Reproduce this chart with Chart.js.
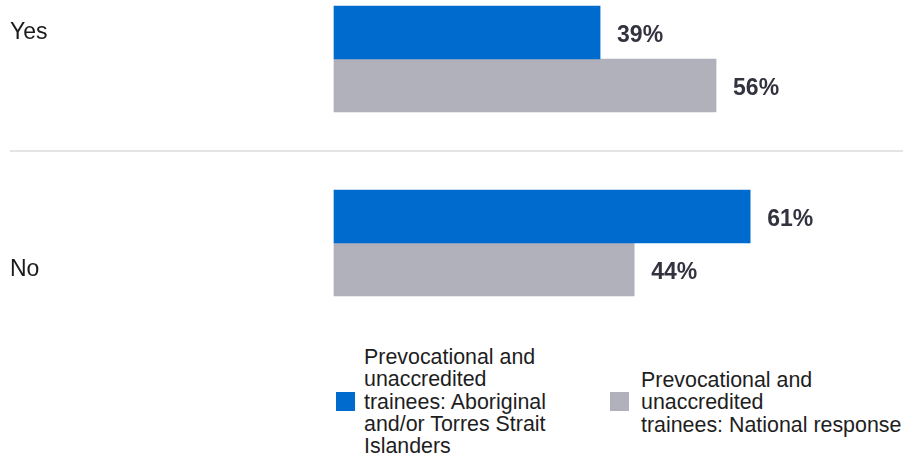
<!DOCTYPE html>
<html>
<head>
<meta charset="utf-8">
<script src="https://cdn.jsdelivr.net/npm/chart.js@4"></script>
<style>
  body { margin: 0; background: #fff; font-family: "Liberation Sans", Arial, sans-serif; }
  #wrap { position: relative; width: 903px; height: 454px; overflow: hidden; }
  #box { position: absolute; left: 0; top: 0; width: 903px; height: 335px; }
  .sw { position: absolute; width: 19px; height: 19px; }
  .txt { position: absolute; font-size: 21.4px; line-height: 22.3px; color: #1e1e1e; white-space: nowrap; }
</style>
</head>
<body>
<div id="wrap">
  <div id="box"><canvas id="chart"></canvas></div>
  <div class="sw" style="left:336px;top:392px;background:#006bcf"></div>
  <div class="txt" style="left:364px;top:346px">Prevocational and<br>unaccredited<br>trainees: Aboriginal<br>and/or Torres Strait<br>Islanders</div>
  <div class="sw" style="left:610px;top:392px;background:#b1b1bc"></div>
  <div class="txt" style="left:641px;top:369px">Prevocational and<br>unaccredited<br>trainees: National response</div>
</div>
<script>
  // -----data
  const categories = ['Yes', 'No'];
  const aboriginal = [39, 61];
  const national = [56, 44];
  const seriesNames = [
    'Prevocational and unaccredited trainees: Aboriginal and/or Torres Strait Islanders',
    'Prevocational and unaccredited trainees: National response'
  ];

  // Yes sits with the first bar, No with the second one
  const tickLabels = [
    [categories[0], '', ''],
    ['', '', categories[1]]
  ];

  // value labels at bar ends
  const valueLabels = {
    id: 'valueLabels',
    afterDatasetsDraw(chart) {
      const ctx = chart.ctx;
      ctx.save();
      ctx.font = 'bold 23px "Liberation Sans", Arial, sans-serif';
      ctx.fillStyle = '#33333f';
      ctx.textBaseline = 'middle';
      ctx.textAlign = 'left';
      chart.data.datasets.forEach(function(ds, di) {
        chart.getDatasetMeta(di).data.forEach(function(bar, i) {
          ctx.fillText(ds.data[i] + '%', bar.x + 17, bar.y + 3);
        });
      });
      ctx.restore();
    }
  };

  var ctx = document.getElementById('chart');

  new Chart(ctx, {
    type: 'bar',
    data: {
      labels: tickLabels,
      datasets: [{
        label: seriesNames[0],
        data: aboriginal,
        backgroundColor: '#006bcf',
        barThickness: 53,
        clip: false
      }, {
        label: seriesNames[1],
        data: national,
        backgroundColor: '#b1b1bc',
        barThickness: 53,
        clip: false
      }]
    },
    options: {
      indexAxis: 'y',
      responsive: true,
      maintainAspectRatio: false,
      animation: false,
      layout: { padding: { top: 59, bottom: 92, left: 10, right: 0 } },
      plugins: {
        legend: { display: false },
        tooltip: { enabled: false }
      },
      scales: {
        x: {
          display: false,
          min: 0,
          max: 83.4
        },
        y: {
          offset: false,
          border: { display: false },
          grid: {
            offset: true,
            color: '#e4e4e4',
            lineWidth: 2,
            drawTicks: true,
            tickLength: 324
          },
          ticks: {
            crossAlign: 'far',
            color: '#1a1a1a',
            font: { family: '"Liberation Sans", Arial, sans-serif', size: 23, lineHeight: 1.15 }
          },
          afterFit: function(scale) { scale.width = 324; }
        }
      }
    },
    plugins: [valueLabels]
  });
</script>
</body>
</html>
